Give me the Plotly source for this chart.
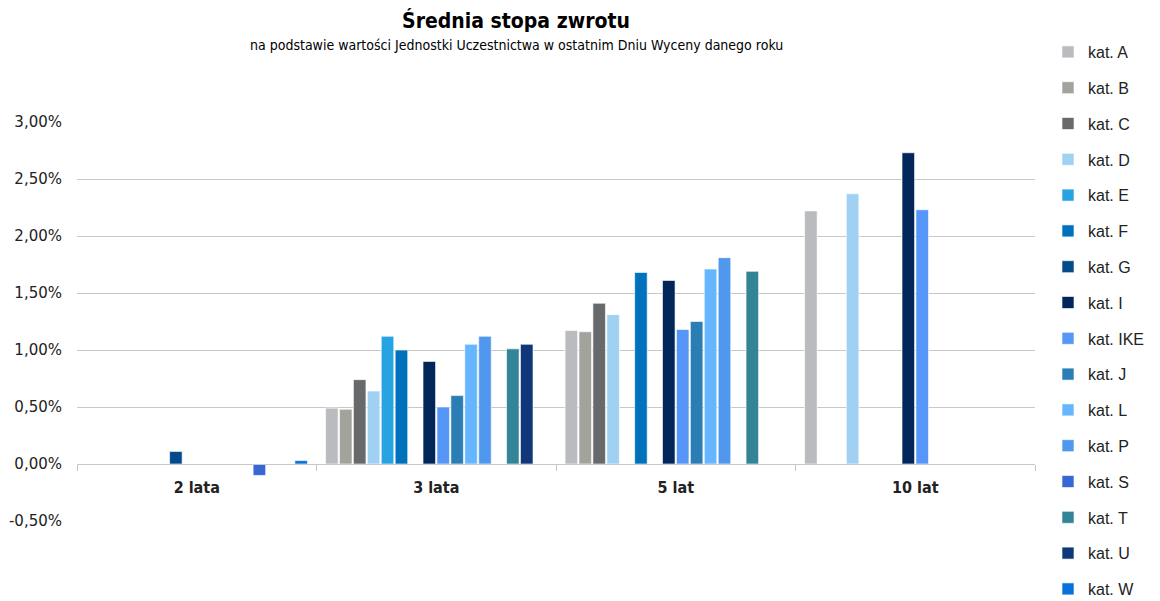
import plotly.graph_objects as go

categories = ["2 lata", "3 lata", "5 lat", "10 lat"]

series_names = [
    "kat. A", "kat. B", "kat. C", "kat. D", "kat. E", "kat. F", "kat. G", "kat. I",
    "kat. IKE", "kat. J", "kat. L", "kat. P", "kat. S", "kat. T", "kat. U", "kat. W",
]

# values in percent, None = no bar
series_values = [
    [None, 0.49, 1.17, 2.22],   # A
    [None, 0.48, 1.16, None],   # B
    [None, 0.74, 1.41, None],   # C
    [None, 0.64, 1.31, 2.37],   # D
    [None, 1.12, None, None],   # E
    [None, 1.00, 1.68, None],   # F
    [0.11, None, None, None],   # G
    [None, 0.90, 1.61, 2.73],   # I
    [None, 0.50, 1.18, 2.23],   # IKE
    [None, 0.60, 1.25, None],   # J
    [None, 1.05, 1.71, None],   # L
    [None, 1.12, 1.81, None],   # P
    [-0.10, None, None, None],  # S
    [None, 1.01, 1.69, None],   # T
    [None, 1.05, None, None],   # U
    [0.03, None, None, None],   # W
]

series_colors = [
    "#B9BBBF", "#A3A39E", "#68696B", "#A1D1F2", "#27A3E2", "#0071BB", "#034A8B", "#022659",
    "#5596F6", "#2A7EB4", "#65B6FF", "#4F98EE", "#3568D4", "#338497", "#10377A", "#0A70DA",
]

y_tick_vals = [-0.005, 0.0, 0.005, 0.01, 0.015, 0.02, 0.025, 0.03]
y_tick_text = ["-0,50%", "0,00%", "0,50%", "1,00%", "1,50%", "2,00%", "2,50%", "3,00%"]

# the page body adds an 8px margin, so the figure is a bit smaller than the window
W, H = 1152, 593
OFF = 8

fig = go.Figure()
for name, vals, color in zip(series_names, series_values, series_colors):
    fig.add_trace(go.Bar(
        x=categories,
        y=[v / 100 if v is not None else None for v in vals],
        name=name,
        legendgroup=name,
        marker=dict(color=color, line=dict(color="rgba(255,255,255,0.6)", width=1)),
        hovertemplate=name + ": %{y:.2%}<extra></extra>",
    ))

zero_pos = 0.005 / 0.035

fig.add_annotation(
    text="na podstawie wartości Jednostki Uczestnictwa w ostatnim Dniu Wyceny danego roku",
    xref="paper", yref="paper", x=(516 - OFF - 69) / 958, y=1 + (114 - (45 - OFF)) / 399,
    xanchor="center", yanchor="middle", showarrow=False,
    font=dict(family="DejaVu Sans Condensed, DejaVu Sans", size=14, color="black"),
)

fig.update_layout(
    width=W, height=H,
    barmode="group", bargap=0.07, bargroupgap=0.1,
    separators=", ",
    plot_bgcolor="white", paper_bgcolor="white",
    margin=dict(l=69, r=125, t=114, b=80, autoexpand=False),
    title=dict(
        text="<b>Średnia stopa zwrotu</b>",
        x=(516 - OFF) / W, xanchor="center", y=1 - (21 - OFF) / H, yanchor="middle",
        font=dict(family="DejaVu Sans Condensed, DejaVu Sans", size=21, color="black"),
    ),
    legend=dict(
        xref="container", yref="container",
        x=(1048 - OFF) / W, y=1 - (35 - OFF) / H, xanchor="left", yanchor="top",
        font=dict(family="Liberation Sans, Arial", size=16, color="#222"),
        tracegroupgap=12, itemwidth=30, maxheight=1,
    ),
    showlegend=True,
)

fig.update_yaxes(
    range=[-0.005, 0.03], tickmode="array", tickvals=y_tick_vals, ticktext=y_tick_text,
    showgrid=True, gridcolor="#C8C8C8", gridwidth=1,
    zeroline=True, zerolinecolor="#C8C8C8", zerolinewidth=1,
    showline=False, automargin=False,
    tickfont=dict(family="DejaVu Sans", size=15, color="#222"),
    ticks="", ticklabelstandoff=14,
)

fig.update_xaxes(
    anchor="free", position=zero_pos, automargin=False,
    showline=True, linecolor="#C8C8C8", linewidth=1,
    ticks="outside", tickson="boundaries", ticklen=6, tickcolor="#C8C8C8",
    tickfont=dict(family="DejaVu Sans Condensed, DejaVu Sans", size=16, color="#222", weight="bold"),
    ticklabelstandoff=9,
    showgrid=False,
)

fig.write_html("out.html")
